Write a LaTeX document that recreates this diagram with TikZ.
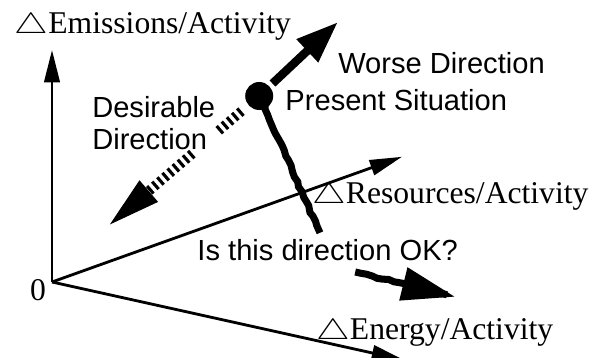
\documentclass[tikz,border=0pt]{standalone}
\usepackage{fontspec}
\setmainfont{Liberation Serif}
\setsansfont{Liberation Sans}
\usepackage{amsmath}
\usetikzlibrary{arrows.meta, positioning, decorations.pathmorphing}
\newcommand{\dlt}{\scalebox{1.3}[1.0]{$\bigtriangleup$}}

\begin{document}
\begin{tikzpicture}[
  serif/.style={font=\fontsize{22.5}{24}\selectfont, inner sep=0pt, anchor=west},
  sans/.style={font=\sffamily\fontsize{20.7}{22.5}\selectfont, inner sep=0pt,
               anchor=west, align=left},
  axis/.style={-{Triangle[length=23pt, width=11pt]}, line width=2pt},
  worse/.style={-{Triangle[length=30pt, width=21pt]}, line width=6pt},
  desire/.style={line width=7pt, dash pattern=on 2.2pt off 2.6pt},
  rough/.style={line width=5pt, decorate,
                decoration={random steps, segment length=4pt, amplitude=0.8pt,
                            post length=6pt}},
]
\pgfmathsetseed{11}
\useasboundingbox (0,0) rectangle (14.825,8.95);

% axes
\coordinate (orig)  at (1.30,1.90);
\coordinate (emTip) at (1.30,7.70);
\coordinate (resTip) at (10.05,5.03);
\coordinate (enTip) at (10.10,-0.05);
\node[serif, anchor=center] (zero) at (0.95,1.70) {0};

\draw[axis] (orig) -- (emTip);
\draw[axis] (orig) -- (resTip);
\draw[axis] (orig) -- (enTip);

\node[serif] (emLbl)  at (0.36,8.28) {\dlt Emissions/Activity};
\node[serif] (resLbl) at (7.80,4.03) {\dlt Resources/Activity};
\node[serif] (enLbl)  at (7.90,0.63) {\dlt Energy/Activity};

% present point and the three directions
\node[circle, fill=black, minimum size=0.7cm, inner sep=0pt] (dot) at (6.48,6.55) {};
\coordinate (worseTip) at (8.45,8.40);
\coordinate (desA)     at (5.43,5.65);
\coordinate (desB)     at (4.81,5.11);
\coordinate (desTip)   at (2.68,3.28);
\coordinate (okA)      at (8.00,3.13);
\coordinate (okB)      at (8.88,2.15);
\coordinate (okTip)    at (11.38,1.53);

\draw[worse, shorten <=2.8pt] (dot) -- (worseTip);
\draw[desire, shorten <=6.4pt] (dot) -- (desA);
\draw[desire, -{Triangle[length=39pt, width=18pt]}] (desB) -- (desTip);
\draw[rough, shorten <=5.7pt] (dot) -- (okA);
\draw[rough, -{Triangle[length=38pt, width=23pt]}] (okB) -- (okTip);

\node[sans] (worseLbl)   at (8.45,7.38) {Worse Direction};
\node[sans] (presentLbl) at (7.13,6.45) {Present Situation};
\node[sans] (desLbl)     at (2.30,5.88) {Desirable\\Direction};
\node[sans] (okLbl)      at (4.93,2.70) {Is this direction OK?};

\end{tikzpicture}
\end{document}
